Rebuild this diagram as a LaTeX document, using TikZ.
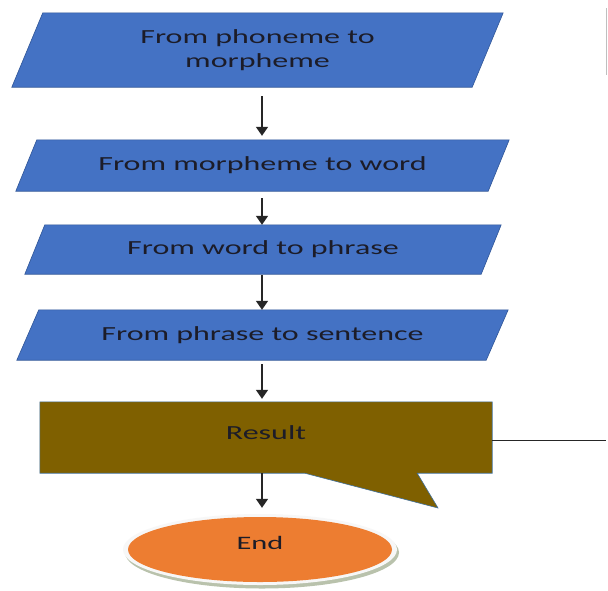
\documentclass[tikz,border=0pt]{standalone}
\usepackage{fontspec}
\usepackage{graphicx}
\setmainfont{Carlito}
\usetikzlibrary{arrows.meta,shapes.geometric,backgrounds}
\definecolor{boxblue}{HTML}{4472C4}
\definecolor{boxedge}{HTML}{2F5597}
\definecolor{resbrown}{HTML}{7F6000}
\definecolor{resedge}{HTML}{41719C}
\definecolor{endorange}{HTML}{ED7D31}
\definecolor{endshade}{HTML}{B9C2AC}
\definecolor{ink}{HTML}{1C1C28}
\newcommand\stretchtext[1]{\scalebox{1.6}[1]{#1}}
\newcommand\liftby[2]{\raisebox{#1}[\height][\depth]{#2}}
\tikzset{
  stepnode/.style={rectangle, inner sep=0pt, text=ink, align=center,
    font=\fontsize{20}{24}\selectfont},
  parafill/.style={fill=boxblue, draw=boxedge, line width=0.6pt},
  flowarrow/.style={draw=black!85, line width=1.6pt,
    -{Triangle[width=12pt,length=9pt]}},
}
\begin{document}
\begin{tikzpicture}[x=1pt,y=-1pt]
  \useasboundingbox (0,0) rectangle (608,590);
  \coordinate (axis) at (262,0);

  % process steps
  \node[stepnode, minimum width=491pt, minimum height=74pt] (b1) at (257.5,50)
    {\stretchtext{From phoneme to}\\\stretchtext{morpheme}};
  \node[stepnode, minimum width=493pt, minimum height=51pt] (b2) at (262.5,165.5)
    {\stretchtext{From morpheme to word}};
  \node[stepnode, minimum width=476pt, minimum height=49pt] (b3) at (263,249.5)
    {\stretchtext{From word to phrase}};
  \node[stepnode, minimum width=491pt, minimum height=50pt] (b4) at (262.5,335)
    {\stretchtext{From phrase to sentence}};

  % result callout and terminal
  \node[stepnode, minimum width=452pt, minimum height=71pt] (res) at (266,437.5)
    {\liftby{4.5pt}{\stretchtext{Result}}};
  \node[ellipse, inner sep=0pt, minimum width=264pt, minimum height=65pt,
        text=ink, font=\fontsize{19}{22}\selectfont] (end) at (260,549.5)
    {\liftby{7pt}{\stretchtext{End}}};

  \begin{scope}[on background layer]
    \fill[white] (0,0) rectangle (608,590);
    \fill[parafill] ([xshift=31pt]b1.north west) -- (b1.north east)
      -- ([xshift=-31pt]b1.south east) -- (b1.south west) -- cycle;
    \fill[parafill] ([xshift=21pt]b2.north west) -- (b2.north east)
      -- ([xshift=-21pt]b2.south east) -- (b2.south west) -- cycle;
    \fill[parafill] ([xshift=20pt]b3.north west) -- (b3.north east)
      -- ([xshift=-20pt]b3.south east) -- (b3.south west) -- cycle;
    \fill[parafill] ([xshift=22pt]b4.north west) -- (b4.north east)
      -- ([xshift=-22pt]b4.south east) -- (b4.south west) -- cycle;
    % speech-bubble shaped result box
    \fill[fill=resbrown, draw=resedge, line width=0.6pt]
      (res.north west) -- (res.north east) -- (res.south east)
      -- ([xshift=-75pt]res.south east) -- (438,508)
      -- ([xshift=265pt]res.south west) -- (res.south west) -- cycle;
    % terminal with white rim and soft shade
    \fill[endshade] ([xshift=2pt,yshift=-3pt]end.center) ellipse [x radius=137pt, y radius=36pt];
    \fill[white!94!gray] (end.center) ellipse [x radius=137pt, y radius=35.5pt];
    \fill[endorange] (end.center) ellipse [x radius=132pt, y radius=32.5pt];
  \end{scope}

  % connectors
  \draw[flowarrow, shorten <=9pt, shorten >=4pt] (b1.south -| axis) -- (b2.north -| axis);
  \draw[flowarrow, shorten <=7pt] (b2.south -| axis) -- (b3.north -| axis);
  \draw[flowarrow, shorten <=1pt] (b3.south -| axis) -- (b4.north -| axis);
  \draw[flowarrow, shorten <=4pt, shorten >=3pt] (b4.south -| axis) -- (res.north -| axis);
  \draw[flowarrow, shorten >=9pt] (res.south -| axis) -- (end.north -| axis);

  % outgoing line to the right edge
  \coordinate (rightend) at (606,440);
  \draw[black!85, line width=0.9pt] ([yshift=-2.5pt]res.east) -- (rightend);

  % thin rule at the top right
  \coordinate (ruletop) at (606,8);
  \coordinate (rulebot) at (606,75);
  \draw[black!25, line width=1pt] (ruletop) -- (rulebot);
\end{tikzpicture}
\end{document}
